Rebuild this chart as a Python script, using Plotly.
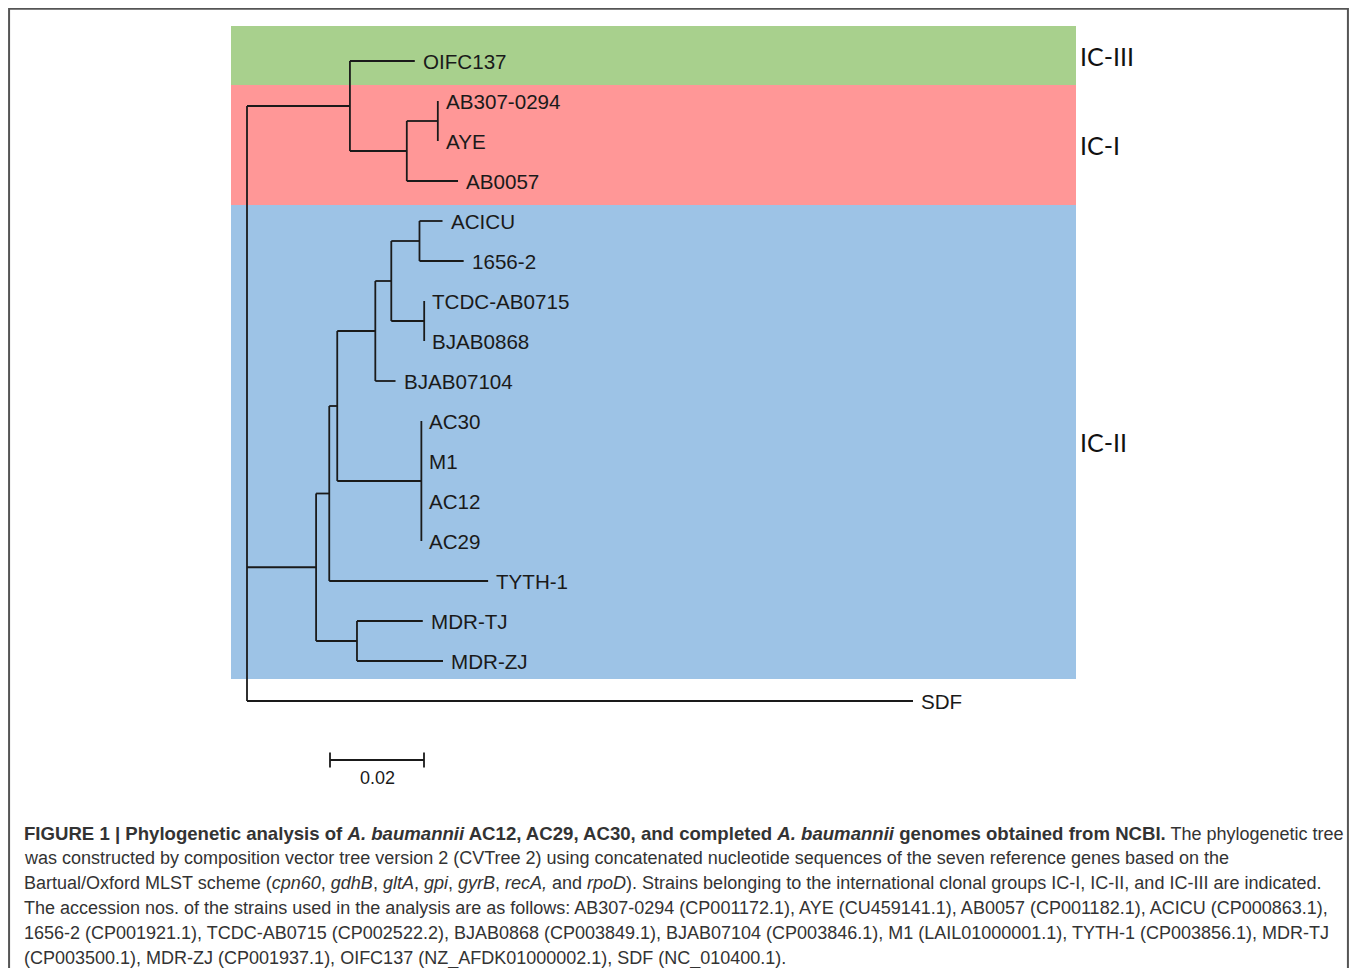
import plotly.graph_objects as go

# ---------------- data ----------------
node_names = ["root", "c_I_III", "OIFC137", "c_I", "c_AB307_AYE", "AB307-0294", "AYE", "AB0057",
              "c_II", "c_II_a", "c_II_b", "c_II_c", "c_II_d", "c_II_e", "ACICU", "1656-2",
              "c_II_f", "TCDC-AB0715", "BJAB0868", "BJAB07104",
              "c_AC", "AC30", "M1", "AC12", "AC29", "TYTH-1", "c_MDR", "MDR-TJ", "MDR-ZJ", "SDF"]
node_parents = [None, "root", "c_I_III", "c_I_III", "c_I", "c_AB307_AYE", "c_AB307_AYE", "c_I",
                "root", "c_II", "c_II_a", "c_II_b", "c_II_c", "c_II_d", "c_II_e", "c_II_e",
                "c_II_d", "c_II_f", "c_II_f", "c_II_c",
                "c_II_b", "c_AC", "c_AC", "c_AC", "c_AC", "c_II_a", "c_II", "c_MDR", "c_MDR", "root"]
branch_lengths = [0.0, 0.0219, 0.0138, 0.0121, 0.0066, 0.0, 0.0, 0.0109,
                  0.0147, 0.0028, 0.0017, 0.0081, 0.0034, 0.0060, 0.0049, 0.0094,
                  0.0070, 0.0, 0.0, 0.0043,
                  0.0179, 0.0, 0.0, 0.0, 0.0, 0.0338, 0.0087, 0.0140, 0.0183, 0.1417]

clade_names = ["IC-III", "IC-I", "IC-II"]
clade_first_leaf = ["OIFC137", "AB307-0294", "ACICU"]
clade_last_leaf = ["OIFC137", "AB0057", "MDR-ZJ"]

scale_bar_value = 0.02
scale_bar_label = "0.02"

caption_lines = [
    "<span style=\"font-size:18.6px\"><b>FIGURE 1 | Phylogenetic analysis of <i>A. baumannii</i> AC12, AC29, AC30, and completed <i>A. baumannii</i> genomes obtained from NCBI.</b></span> The phylogenetic tree",
    "was constructed by composition vector tree version 2 (CVTree 2) using concatenated nucleotide sequences of the seven reference genes based on the",
    "Bartual/Oxford MLST scheme (<i>cpn60</i>, <i>gdhB</i>, <i>gltA</i>, <i>gpi</i>, <i>gyrB</i>, <i>recA,</i> and <i>rpoD</i>). Strains belonging to the international clonal groups IC-I, IC-II, and IC-III are indicated.",
    "The accession nos. of the strains used in the analysis are as follows: AB307-0294 (CP001172.1), AYE (CU459141.1), AB0057 (CP001182.1), ACICU (CP000863.1),",
    "1656-2 (CP001921.1), TCDC-AB0715 (CP002522.2), BJAB0868 (CP003849.1), BJAB07104 (CP003846.1), M1 (LAIL01000001.1), TYTH-1 (CP003856.1), MDR-TJ",
    "(CP003500.1), MDR-ZJ (CP001937.1), OIFC137 (NZ_AFDK01000002.1), SDF (NC_010400.1).",
]

# ---------------- tree layout ----------------
children = {n: [] for n in node_names}
for n, p in zip(node_names, node_parents):
    if p is not None:
        children[p].append(n)
blen = dict(zip(node_names, branch_lengths))

xpos, ypos = {}, {}
leaf_order = []

def place(n, x0):
    xpos[n] = x0 + blen[n]
    if not children[n]:
        ypos[n] = len(leaf_order)
        leaf_order.append(n)
    else:
        for c in children[n]:
            place(c, xpos[n])
        ys = [ypos[c] for c in children[n]]
        ypos[n] = (ys[0] + ys[-1]) / 2

place("root", 0.0)

lx, ly = [], []
for n, p in zip(node_names, node_parents):
    if p is not None:
        lx += [xpos[p], xpos[n], None]
        ly += [ypos[n], ypos[n], None]
    if children[n]:
        ys = [ypos[c] for c in children[n]]
        lx += [xpos[n], xpos[n], None]
        ly += [min(ys), max(ys), None]

# ---------------- figure geometry ----------------
W, H = 1341, 960          # page is offset by 8px body margin
PX_PER_UNIT = 4700.0      # x pixels per unit branch length
ROOT_PX = 247 - 8
LEAF0_PY = 61 - 8
LEAF_STEP = 40.0
x_range = [-ROOT_PX / PX_PER_UNIT, (W - ROOT_PX) / PX_PER_UNIT]
y_range = [(H - LEAF0_PY) / LEAF_STEP, -LEAF0_PY / LEAF_STEP]

band_colors = ["#A8D08D", "#FF9797", "#9DC3E6"]
band_top_pad = [0.875, 0.4, 0.4]
band_bottom_pad = [0.6, 0.6, 0.45]
band_x0 = (231 - 247) / PX_PER_UNIT
band_x1 = (1076 - 247) / PX_PER_UNIT

fig = go.Figure()

shapes = []
annotations = []
for name, f, l, col, pt, pb in zip(clade_names, clade_first_leaf, clade_last_leaf,
                                   band_colors, band_top_pad, band_bottom_pad):
    y0 = ypos[f] - pt
    y1 = ypos[l] + pb
    shapes.append(dict(type="rect", xref="x", yref="y", x0=band_x0, x1=band_x1,
                       y0=y0, y1=y1, fillcolor=col, line=dict(width=0), layer="below"))
    annotations.append(dict(x=(1078 - 247) / PX_PER_UNIT, y=(y0 + y1) / 2, text=name,
                            xref="x", yref="y", xanchor="left", yanchor="middle",
                            showarrow=False,
                            font=dict(family="Lato, Open Sans, sans-serif", size=25, color="#111111")))

fig.add_trace(go.Scatter(x=lx, y=ly, mode="lines",
                         line=dict(color="#1a1a1a", width=1.8),
                         hoverinfo="skip", showlegend=False))

for n in leaf_order:
    annotations.append(dict(x=xpos[n], y=ypos[n], text=n, xref="x", yref="y",
                            xanchor="left", yanchor="middle", xshift=6, showarrow=False,
                            font=dict(family="Liberation Sans, Arial, sans-serif", size=20.6,
                                      color="#1a1a1a")))

# scale bar
sb_x0 = (330 - 247) / PX_PER_UNIT
sb_y = (760 - 61) / LEAF_STEP
tick = 0.19
fig.add_trace(go.Scatter(
    x=[sb_x0, sb_x0 + scale_bar_value, None, sb_x0, sb_x0, None,
       sb_x0 + scale_bar_value, sb_x0 + scale_bar_value],
    y=[sb_y, sb_y, None, sb_y - tick, sb_y + tick, None, sb_y - tick, sb_y + tick],
    mode="lines", line=dict(color="#1a1a1a", width=1.8),
    hoverinfo="skip", showlegend=False))
annotations.append(dict(x=sb_x0 + scale_bar_value / 2, y=sb_y + 0.45, text=scale_bar_label,
                        xref="x", yref="y", xanchor="center", yanchor="middle",
                        showarrow=False,
                        font=dict(family="Liberation Sans, Arial, sans-serif", size=18,
                                  color="#1a1a1a")))

# caption
cap_x = (22 - 8) / W
for k, line in enumerate(caption_lines):
    py = 833 - 8 + 25 * k
    annotations.append(dict(x=cap_x, y=1 - py / H, text=line, xref="paper", yref="paper",
                            xanchor="left", yanchor="middle", showarrow=False,
                            font=dict(family="Liberation Sans, Arial, sans-serif", size=18,
                                      color="#333333")))

# outer frame
shapes.append(dict(type="path", xref="paper", yref="paper",
                   path="M 0.0008,-0.05 L 0.0008,0.9992 L 0.9992,0.9992 L 0.9992,-0.05",
                   line=dict(color="#555555", width=2)))

fig.update_layout(
    width=W, height=H,
    margin=dict(l=0, r=0, t=0, b=0),
    paper_bgcolor="white", plot_bgcolor="white",
    xaxis=dict(range=x_range, visible=False, fixedrange=True),
    yaxis=dict(range=y_range, visible=False, fixedrange=True),
    shapes=shapes, annotations=annotations,
    showlegend=False,
)

fig.write_html("out.html")
